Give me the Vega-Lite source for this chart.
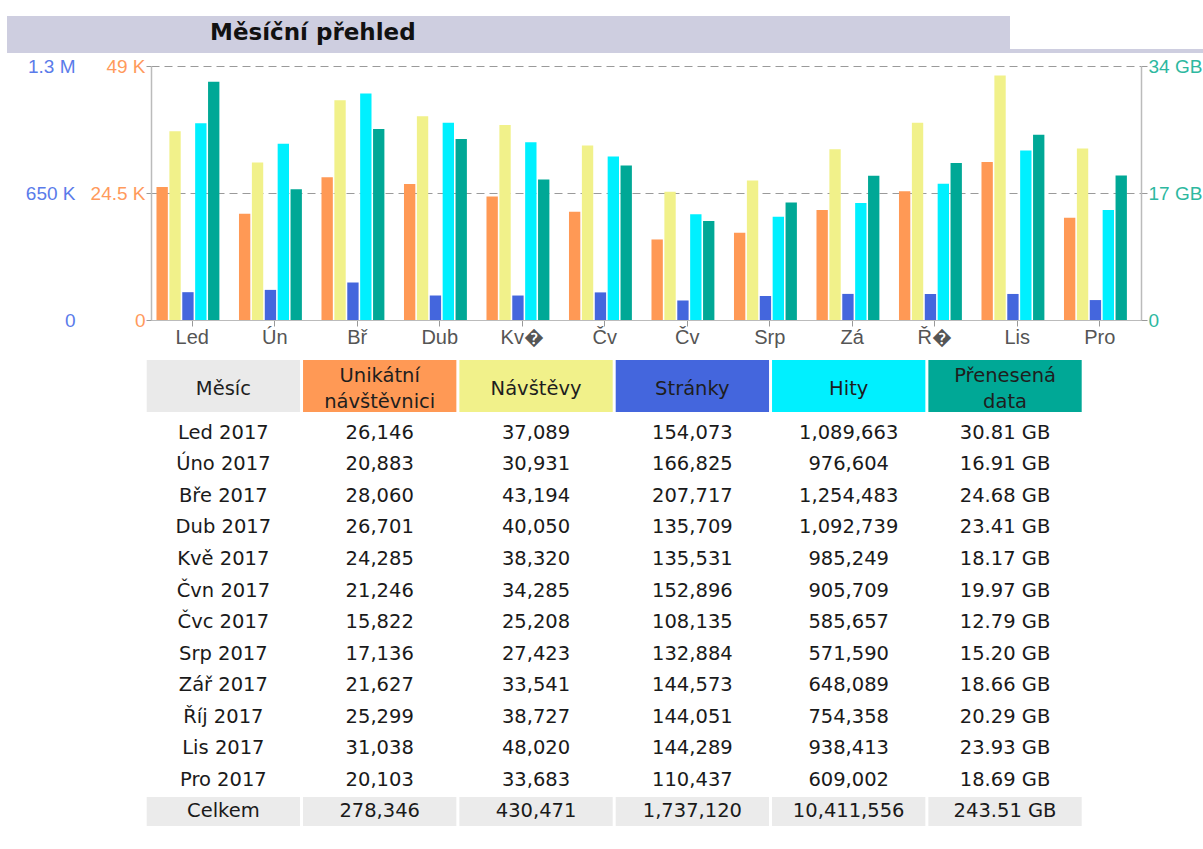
{
  "$schema": "https://vega.github.io/schema/vega-lite/v6.json",
  "padding": {"left": 7, "top": 16, "right": 0, "bottom": 0},
  "background": "white",
  "config": {
    "view": {"stroke": null},
    "font": "DejaVu Sans",
    "locale": {"number": {"decimal": ".", "thousands": ",", "grouping": [3], "currency": ["", " GB"]}}
  },
  "datasets": {
    "t": [
      {"month": "Led 2017", "visitors": 26146, "visits": 37089, "pages": 154073, "hits": 1089663, "gb": 30.81},
      {"month": "Úno 2017", "visitors": 20883, "visits": 30931, "pages": 166825, "hits": 976604, "gb": 16.91},
      {"month": "Bře 2017", "visitors": 28060, "visits": 43194, "pages": 207717, "hits": 1254483, "gb": 24.68},
      {"month": "Dub 2017", "visitors": 26701, "visits": 40050, "pages": 135709, "hits": 1092739, "gb": 23.41},
      {"month": "Kvě 2017", "visitors": 24285, "visits": 38320, "pages": 135531, "hits": 985249, "gb": 18.17},
      {"month": "Čvn 2017", "visitors": 21246, "visits": 34285, "pages": 152896, "hits": 905709, "gb": 19.97},
      {"month": "Čvc 2017", "visitors": 15822, "visits": 25208, "pages": 108135, "hits": 585657, "gb": 12.79},
      {"month": "Srp 2017", "visitors": 17136, "visits": 27423, "pages": 132884, "hits": 571590, "gb": 15.20},
      {"month": "Zář 2017", "visitors": 21627, "visits": 33541, "pages": 144573, "hits": 648089, "gb": 18.66},
      {"month": "Říj 2017", "visitors": 25299, "visits": 38727, "pages": 144051, "hits": 754358, "gb": 20.29},
      {"month": "Lis 2017", "visitors": 31038, "visits": 48020, "pages": 144289, "hits": 938413, "gb": 23.93},
      {"month": "Pro 2017", "visitors": 20103, "visits": 33683, "pages": 110437, "hits": 609002, "gb": 18.69},
      {"month": "Celkem", "visitors": 278346, "visits": 430471, "pages": 1737120, "hits": 10411556, "gb": 243.51}
    ]
  },
  "columns": 1,
  "align": "none",
  "spacing": 13,
  "concat": [
    {
      "columns": 1,
      "align": "none",
      "spacing": 4,
      "concat": [
        {
          "columns": 1,
          "align": "none",
          "spacing": 0,
          "concat": [
            {
              "width": 1003,
              "height": 33,
              "data": {"values": [{"part": "title", "label": "Měsíční přehled"}]},
              "encoding": {
                "x": {"field": "part", "type": "nominal", "scale": {"range": [-144, 859], "paddingInner": 0, "paddingOuter": 0}, "axis": null}
              },
              "layer": [
                {"mark": {"type": "rect", "color": "#CECEE0"}, "encoding": {}},
                {
                  "mark": {"type": "text", "align": "left", "baseline": "middle", "dx": -298.5, "font": "DejaVu Sans", "fontSize": 23, "fontWeight": "bold", "color": "#111111"},
                  "encoding": {"text": {"field": "label", "type": "nominal"}}
                }
              ]
            },
            {
              "width": 1196,
              "height": 4,
              "data": {"values": [{"part": "strip"}]},
              "mark": {"type": "rect", "color": "#CECEE0"},
              "encoding": {
                "x": {"field": "part", "type": "nominal", "scale": {"range": [-144, 1052], "paddingInner": 0, "paddingOuter": 0}, "axis": null}
              }
            }
          ]
        },
        {
          "width": 990,
          "height": 254,
          "data": {"name": "t"},
          "transform": [
            {"filter": {"not": {"field": "month", "equal": "Celkem"}}},
            {"fold": ["visitors", "visits", "pages", "hits", "gb"], "as": ["series", "value"]}
          ],
          "encoding": {
            "x": {
              "field": "month", "type": "nominal",
              "scale": {"domain": ["Led 2017", "Úno 2017", "Bře 2017", "Dub 2017", "Kvě 2017", "Čvn 2017", "Čvc 2017", "Srp 2017", "Zář 2017", "Říj 2017", "Lis 2017", "Pro 2017"], "paddingInner": 0, "paddingOuter": 0},
              "axis": {
                "title": null, "labelAngle": 0, "bandPosition": 0.5,
                "labelExpr": "['Led','Ún','Bř','Dub','Kv�','Čv','Čv','Srp','Zá','Ř�','Lis','Pro'][indexof(['Led 2017','Úno 2017','Bře 2017','Dub 2017','Kvě 2017','Čvn 2017','Čvc 2017','Srp 2017','Zář 2017','Říj 2017','Lis 2017','Pro 2017'], datum.value)]",
                "tickSize": 6, "tickColor": "#999999", "domain": true, "domainColor": "#BBBBBB",
                "labelColor": "#555555", "labelFont": "Liberation Sans", "labelFontSize": 20, "labelPadding": 1
              }
            },
            "xOffset": {
              "field": "series", "type": "nominal",
              "scale": {"domain": ["visitors", "visits", "pages", "hits", "gb"], "paddingInner": 0.12, "paddingOuter": 0.76, "align": 0.28}
            }
          },
          "layer": [
            {
              "transform": [{"filter": {"field": "series", "equal": "visitors"}}],
              "mark": {"type": "bar", "color": "#FF9955"},
              "encoding": {
                "y": {
                  "field": "value", "type": "quantitative",
                  "scale": {"domain": [0, 49900], "nice": false},
                  "axis": {
                    "orient": "left", "title": null, "values": [0, 24950, 49900],
                    "labelExpr": "datum.value == 0 ? '0' : datum.value < 30000 ? '24.5 K' : '49 K'",
                    "grid": true, "gridDash": [8, 5], "gridColor": "#9A9A9A", "gridWidth": 1,
                    "domain": true, "domainColor": "#BBBBBB", "domainWidth": 1.5,
                    "ticks": true, "tickSize": 5, "tickColor": "#999999",
                    "labelPadding": 1, "labelColor": "#FF9A5C", "labelFont": "Liberation Sans", "labelFontSize": 19, "labelFlush": false
                  }
                }
              }
            },
            {
              "transform": [{"filter": {"field": "series", "equal": "visits"}}],
              "mark": {"type": "bar", "color": "#F1F18A"},
              "encoding": {
                "y": {"field": "value", "type": "quantitative", "scale": {"domain": [0, 49900], "nice": false}, "axis": null}
              }
            },
            {
              "transform": [{"filter": {"field": "series", "equal": "pages"}}],
              "mark": {"type": "bar", "color": "#4466DD"},
              "encoding": {
                "y": {
                  "field": "value", "type": "quantitative",
                  "scale": {"domain": [0, 1407000], "nice": false},
                  "axis": {
                    "orient": "left", "title": null, "offset": 76, "values": [0, 703500, 1407000],
                    "labelExpr": "datum.value == 0 ? '0' : datum.value < 1000000 ? '650 K' : '1.3 M'",
                    "grid": false, "domain": false, "ticks": false, "tickSize": 0, "minExtent": 68,
                    "labelPadding": 0, "labelColor": "#5A7BEA", "labelFont": "Liberation Sans", "labelFontSize": 19, "labelFlush": false
                  }
                }
              }
            },
            {
              "transform": [{"filter": {"field": "series", "equal": "hits"}}],
              "mark": {"type": "bar", "color": "#00F0FF"},
              "encoding": {
                "y": {"field": "value", "type": "quantitative", "scale": {"domain": [0, 1407000], "nice": false}, "axis": null}
              }
            },
            {
              "transform": [{"filter": {"field": "series", "equal": "gb"}}],
              "mark": {"type": "bar", "color": "#00A896"},
              "encoding": {
                "y": {
                  "field": "value", "type": "quantitative",
                  "scale": {"domain": [0, 32.83], "nice": false},
                  "axis": {
                    "orient": "right", "title": null, "values": [0, 16.415, 32.83],
                    "labelExpr": "datum.value == 0 ? '0' : datum.value < 25 ? '17 GB' : '34 GB'",
                    "grid": false, "domain": true, "domainColor": "#BBBBBB", "domainWidth": 1.5,
                    "ticks": true, "tickSize": 6, "tickColor": "#999999",
                    "labelPadding": 1, "labelColor": "#2DB8A0", "labelFont": "Liberation Sans", "labelFontSize": 19, "labelFlush": false
                  }
                }
              }
            }
          ],
          "resolve": {"scale": {"y": "independent"}, "axis": {"y": "independent"}}
        }
      ]
    },
    {
      "columns": 1,
      "align": "none",
      "spacing": 5,
      "concat": [
        {
          "width": 931,
          "height": 52,
          "data": {"values": [
            {"key": "month", "line": "m", "text": "Měsíc"},
            {"key": "visitors", "line": "a", "text": "Unikátní"},
            {"key": "visitors", "line": "b", "text": "návštěvnici"},
            {"key": "visits", "line": "m", "text": "Návštěvy"},
            {"key": "pages", "line": "m", "text": "Stránky"},
            {"key": "hits", "line": "m", "text": "Hity"},
            {"key": "gb", "line": "a", "text": "Přenesená"},
            {"key": "gb", "line": "b", "text": "data"}
          ]},
          "encoding": {
            "x": {"field": "key", "type": "nominal", "scale": {"domain": ["month", "visitors", "visits", "pages", "hits", "gb"], "range": [-4.3, 930.7], "paddingInner": 0.0192, "paddingOuter": 0}, "axis": null}
          },
          "layer": [
            {
              "transform": [{"filter": {"field": "line", "oneOf": ["m", "a"]}}],
              "mark": {"type": "rect"},
              "encoding": {
                "color": {"field": "key", "type": "nominal", "scale": {"domain": ["month", "visitors", "visits", "pages", "hits", "gb"], "range": ["#EAEAEA", "#FF9955", "#F1F18A", "#4466DD", "#00F0FF", "#00A896"]}, "legend": null}
              }
            },
            {
              "mark": {"type": "text", "font": "DejaVu Sans", "fontSize": 19.5, "color": "#1E1E1E", "baseline": "middle"},
              "encoding": {
                "y": {"field": "line", "type": "nominal", "scale": {"type": "point", "domain": ["a", "m", "b"], "padding": 1.08, "align": 0.6}, "axis": null},
                "text": {"field": "text", "type": "nominal"}
              }
            }
          ]
        },
        {
          "width": 931,
          "height": 410.2,
          "data": {"name": "t"},
          "encoding": {
            "y": {"field": "month", "type": "nominal", "scale": {"domain": ["Led 2017", "Úno 2017", "Bře 2017", "Dub 2017", "Kvě 2017", "Čvn 2017", "Čvc 2017", "Srp 2017", "Zář 2017", "Říj 2017", "Lis 2017", "Pro 2017", "Celkem"], "paddingInner": 0.08, "paddingOuter": 0.04}, "axis": null}
          },
          "layer": [
            {
              "transform": [
                {"filter": {"field": "month", "equal": "Celkem"}},
                {"fold": ["month", "visitors", "visits", "pages", "hits", "gb"], "as": ["key", "v"]}
              ],
              "mark": {"type": "rect", "color": "#EBEBEB"},
              "encoding": {
                "x": {"field": "key", "type": "nominal", "scale": {"domain": ["month", "visitors", "visits", "pages", "hits", "gb"], "range": [-4.3, 930.7], "paddingInner": 0.0192, "paddingOuter": 0}, "axis": null}
              }
            },
            {
              "mark": {"type": "text", "font": "DejaVu Sans", "fontSize": 19.5, "color": "#1A1A1A", "baseline": "middle"},
              "encoding": {"x": {"datum": "month", "type": "nominal"}, "text": {"field": "month", "type": "nominal"}}
            },
            {
              "mark": {"type": "text", "font": "DejaVu Sans", "fontSize": 19.5, "color": "#1A1A1A", "baseline": "middle"},
              "encoding": {"x": {"datum": "visitors", "type": "nominal"}, "text": {"field": "visitors", "type": "quantitative", "format": ",d"}}
            },
            {
              "mark": {"type": "text", "font": "DejaVu Sans", "fontSize": 19.5, "color": "#1A1A1A", "baseline": "middle"},
              "encoding": {"x": {"datum": "visits", "type": "nominal"}, "text": {"field": "visits", "type": "quantitative", "format": ",d"}}
            },
            {
              "mark": {"type": "text", "font": "DejaVu Sans", "fontSize": 19.5, "color": "#1A1A1A", "baseline": "middle"},
              "encoding": {"x": {"datum": "pages", "type": "nominal"}, "text": {"field": "pages", "type": "quantitative", "format": ",d"}}
            },
            {
              "mark": {"type": "text", "font": "DejaVu Sans", "fontSize": 19.5, "color": "#1A1A1A", "baseline": "middle"},
              "encoding": {"x": {"datum": "hits", "type": "nominal"}, "text": {"field": "hits", "type": "quantitative", "format": ",d"}}
            },
            {
              "mark": {"type": "text", "font": "DejaVu Sans", "fontSize": 19.5, "color": "#1A1A1A", "baseline": "middle"},
              "encoding": {"x": {"datum": "gb", "type": "nominal"}, "text": {"field": "gb", "type": "quantitative", "format": "$.2f"}}
            }
          ]
        }
      ]
    }
  ]
}
